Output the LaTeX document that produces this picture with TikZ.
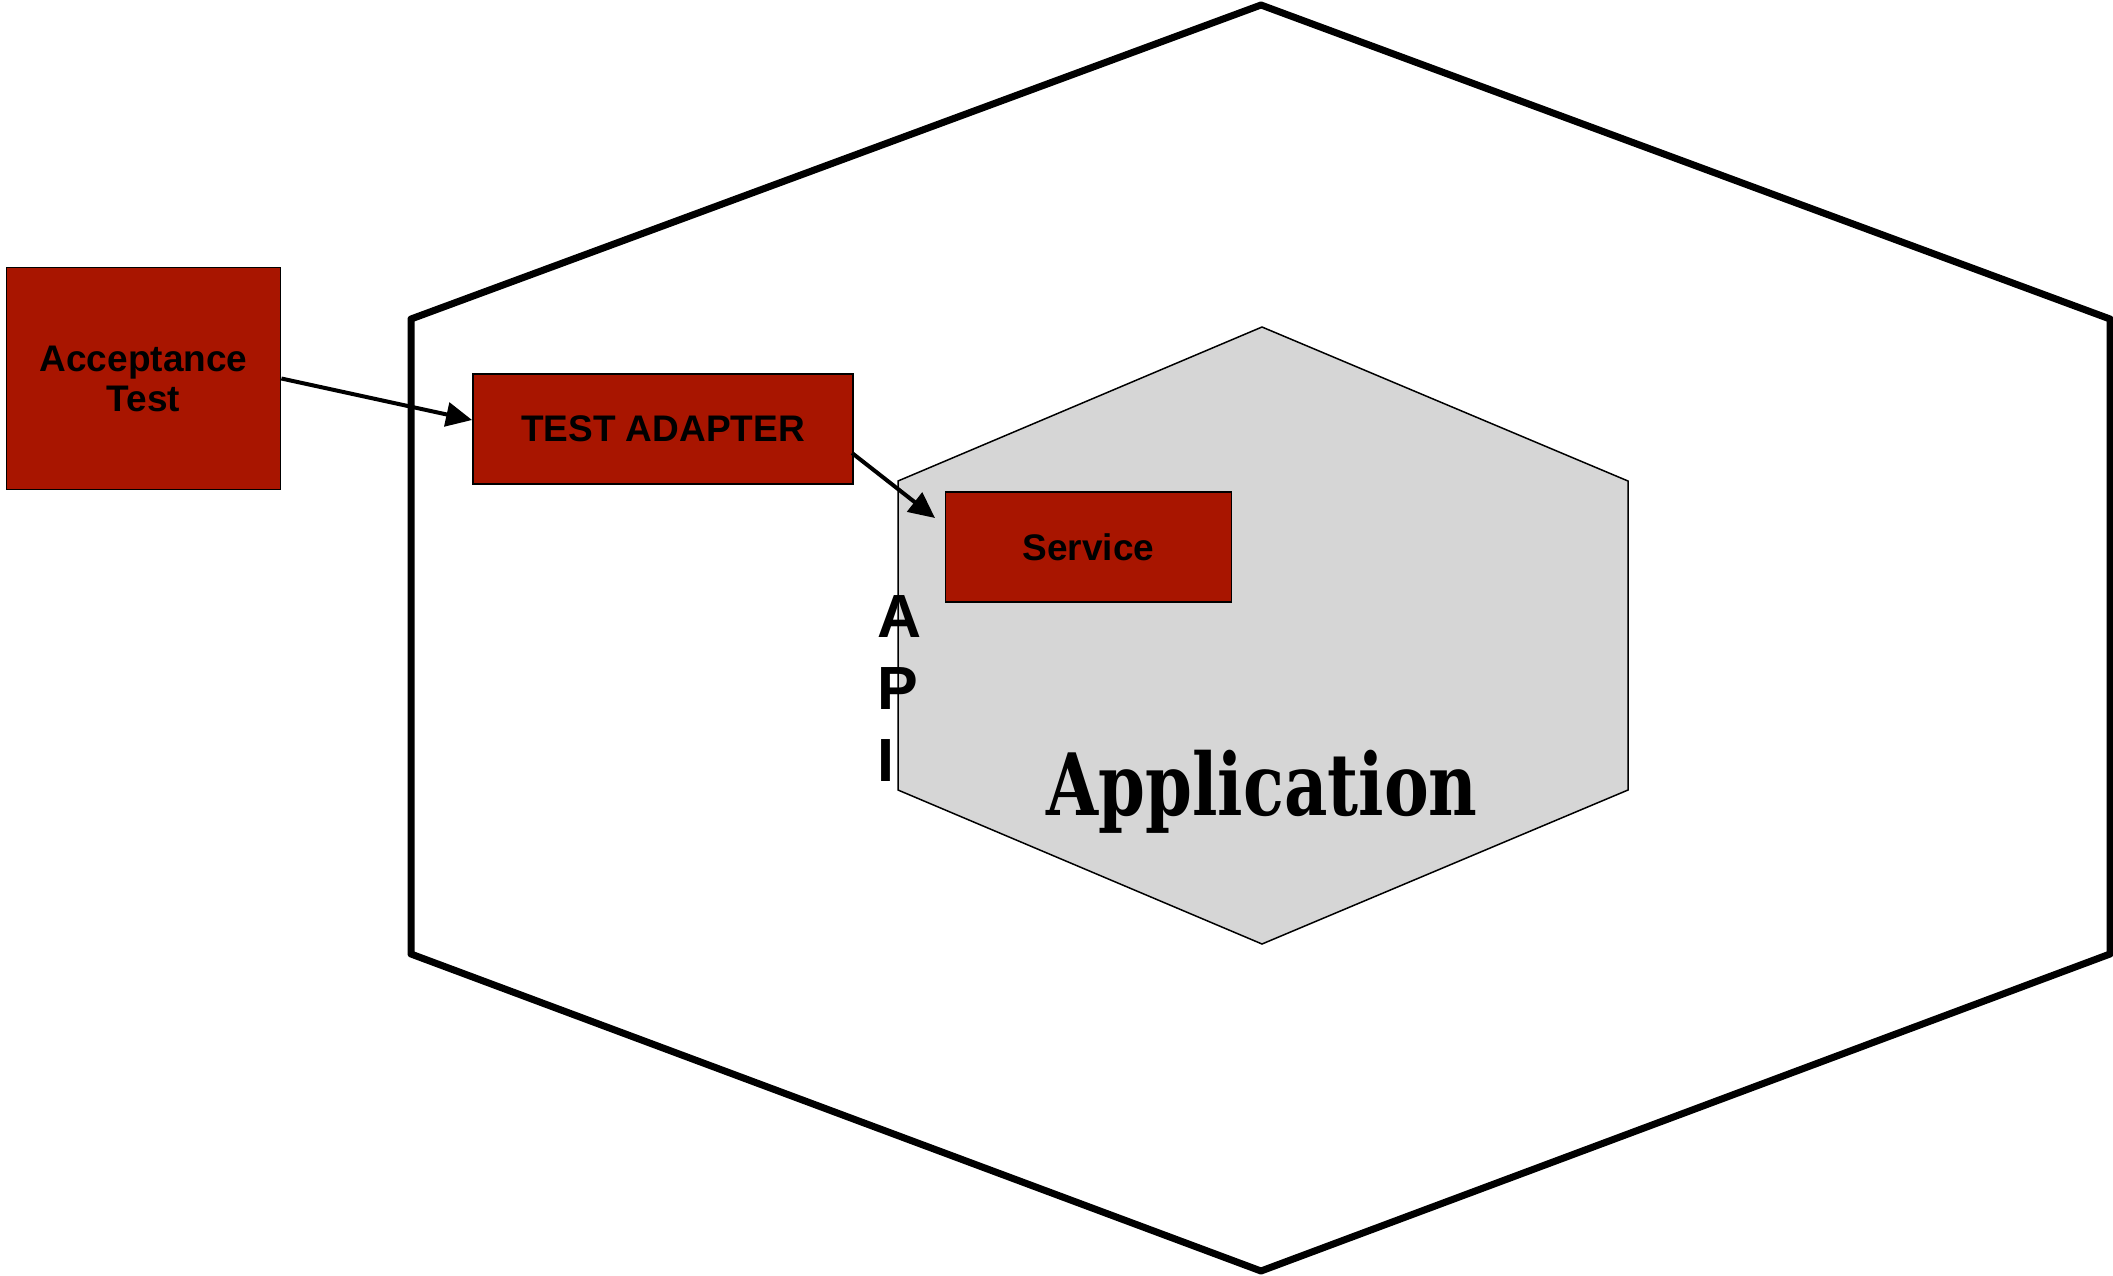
\documentclass[tikz,border=0pt]{standalone}
\usepackage{fontspec}
\setmainfont{Liberation Sans}
\newfontfamily\appfont{DejaVu Serif}
\usetikzlibrary{arrows.meta,calc}
\definecolor{boxred}{RGB}{168,21,0}
\definecolor{appgray}{RGB}{214,214,214}
\tikzset{
  redbox/.style={draw=black, line width=1.8pt, fill=boxred, inner sep=0pt,
    align=center, font=\fontsize{37}{40}\selectfont\bfseries},
  outerhex/.style={draw=black, line width=7pt, line join=round},
  innerhex/.style={draw=black, line width=1.5pt, fill=appgray},
  flow/.style={draw=black, line width=4pt, -{Triangle[length=26pt,width=24pt]}}
}
\begin{document}
\begin{tikzpicture}[x=1pt,y=-1pt]
  \useasboundingbox (0,0) rectangle (2113,1275);

  % outer hexagon (adapters layer)
  \draw[outerhex] (1261,5) -- (2110,319) -- (2110,954) -- (1261,1271)
    -- (411,954) -- (411,319) -- cycle;

  % inner hexagon (application core)
  \draw[innerhex] (1262,327) -- (1628,481) -- (1628,790) -- (1262,944)
    -- (898,790) -- (898,481) -- cycle;

  % boxes
  \node[redbox, minimum width=274pt, minimum height=222pt] (acc) at (143.5,378.5) {Acceptance\\Test};
  \node[redbox, minimum width=380pt, minimum height=110pt] (ta) at (663,429) {TEST ADAPTER};
  \node[redbox, minimum width=286pt, minimum height=110pt] (svc) at (1088.5,547) {Service};

  % labels
  \node[anchor=north west, inner sep=0pt, align=left,
        font=\fontsize{61}{72}\selectfont\bfseries] (api) at (877,595) {A\\P\\I};
  \node[anchor=base, inner sep=0pt, font=\appfont\fontsize{86}{90}\selectfont\bfseries]
    (app) at (1262,815) {\scalebox{0.78}[1]{Application}};

  % connectors
  \coordinate (taout) at (852,453);
  \coordinate (svcin) at (935,518);
  \draw[flow] (acc.east) -- ([yshift=9pt]ta.west);
  \draw[flow] (taout) -- (svcin);
\end{tikzpicture}
\end{document}
